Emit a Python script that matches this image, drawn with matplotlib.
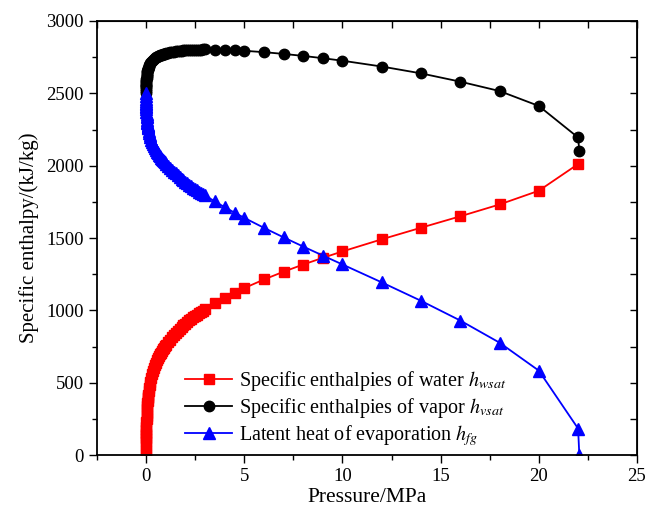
import matplotlib
matplotlib.use('Agg')
import matplotlib.pyplot as plt
from matplotlib.ticker import MultipleLocator

plt.rcParams['font.family'] = ['Liberation Serif', 'DejaVu Serif']
plt.rcParams['mathtext.fontset'] = 'stix'

# saturation pressure, MPa
pressure = [0.000611, 0.001, 0.002, 0.003, 0.004, 0.005, 0.006, 0.008, 0.01, 0.015,
            0.02, 0.025, 0.03, 0.04, 0.05, 0.06, 0.07, 0.08, 0.09,
            0.1, 0.125, 0.15, 0.175, 0.2, 0.25, 0.3, 0.35, 0.4, 0.45, 0.5,
            0.55, 0.6, 0.65, 0.7, 0.75, 0.8, 0.85, 0.9, 0.95, 1.0,
            1.1, 1.2, 1.3, 1.4, 1.5, 1.6, 1.7, 1.8, 1.9, 2.0,
            2.1, 2.2, 2.3, 2.4, 2.5, 2.6, 2.7, 2.8, 2.9, 3.0,
            3.5, 4.0, 4.5, 5.0, 6.0, 7.0, 8.0, 9.0, 10.0,
            12.0, 14.0, 16.0, 18.0, 20.0, 22.0, 22.064]

# saturated water enthalpy, kJ/kg
h_water = [0.0, 29.3, 73.4, 101.0, 121.4, 137.7, 151.5, 173.8, 191.8, 225.9,
           251.4, 271.9, 289.3, 317.6, 340.5, 359.8, 376.7, 391.6, 405.1,
           417.4, 444.3, 467.1, 487.0, 504.7, 535.4, 561.4, 584.3, 604.7, 623.2, 640.1,
           655.8, 670.4, 684.1, 697.0, 709.3, 720.9, 732.0, 742.6, 752.8, 762.5,
           781.0, 798.3, 814.6, 830.0, 844.6, 858.4, 871.7, 884.5, 896.7, 908.5,
           919.9, 930.9, 941.6, 951.9, 961.9, 971.7, 981.2, 990.5, 999.5, 1008.3,
           1049.7, 1087.4, 1122.1, 1154.5, 1213.9, 1267.7, 1317.3, 1363.7, 1407.9,
           1491.5, 1571.6, 1650.5, 1732.2, 1827.2, 2011.3, 2087.0]

# saturated vapour enthalpy, kJ/kg
h_vapor = [2500.9, 2513.7, 2532.9, 2544.9, 2553.7, 2560.7, 2566.6, 2576.2, 2583.9, 2598.3,
           2608.9, 2617.4, 2624.6, 2636.1, 2645.2, 2652.9, 2659.4, 2665.0, 2670.0,
           2675.0, 2685.2, 2693.1, 2700.1, 2706.3, 2716.5, 2724.9, 2732.0, 2738.1, 2743.4, 2748.1,
           2752.3, 2756.2, 2759.6, 2762.8, 2765.6, 2768.3, 2770.7, 2773.0, 2775.1, 2777.1,
           2780.7, 2783.8, 2786.5, 2788.9, 2791.0, 2792.8, 2794.5, 2795.9, 2797.2, 2798.3,
           2799.2, 2800.0, 2800.7, 2801.3, 2801.9, 2802.2, 2802.6, 2802.9, 2803.1, 2803.3,
           2802.7, 2800.8, 2797.9, 2794.2, 2784.6, 2772.6, 2758.7, 2742.9, 2725.5,
           2685.4, 2638.1, 2580.8, 2516.0, 2413.0, 2195.0, 2100.0]

# latent heat of evaporation, kJ/kg
h_fg = [2500.9, 2484.4, 2459.5, 2443.9, 2432.3, 2423.0, 2415.1, 2402.4, 2392.1, 2372.4,
        2357.5, 2345.5, 2335.3, 2318.5, 2304.7, 2293.1, 2282.7, 2273.4, 2264.9,
        2257.5, 2240.9, 2226.0, 2213.1, 2201.6, 2181.1, 2163.5, 2147.7, 2133.4, 2120.2, 2108.0,
        2096.5, 2085.8, 2075.5, 2065.8, 2056.3, 2047.5, 2038.7, 2030.5, 2022.3, 2014.6,
        1999.6, 1985.4, 1971.9, 1958.9, 1946.4, 1934.4, 1922.8, 1911.4, 1900.5, 1889.8,
        1879.3, 1869.1, 1859.1, 1849.4, 1840.0, 1830.5, 1821.4, 1812.4, 1803.6, 1795.0,
        1753.0, 1713.4, 1675.8, 1639.7, 1570.7, 1504.9, 1441.4, 1379.2, 1317.6,
        1193.9, 1066.5, 930.3, 777.3, 584.2, 184.0, 0.0]

fig = plt.figure(figsize=(6.56, 5.12), dpi=100)
ax = fig.add_axes([0.148, 0.111, 0.823, 0.848])

ax.plot(pressure[:-1], h_water[:-1], color='red', marker='s', markersize=7.5, lw=1.3,
        label='Specific enthalpies of water $h_{wsat}$')
ax.plot(pressure, h_vapor, color='black', marker='o', markersize=7.5, lw=1.3,
        label='Specific enthalpies of vapor $h_{vsat}$')
ax.plot(pressure, h_fg, color='blue', marker='^', markersize=8.5, lw=1.3,
        label='Latent heat of evaporation $h_{fg}$')

ax.set_xlim(-2.5, 25)
ax.set_ylim(0, 3000)
ax.xaxis.set_major_locator(MultipleLocator(5))
ax.xaxis.set_minor_locator(MultipleLocator(2.5))
ax.yaxis.set_major_locator(MultipleLocator(500))
ax.yaxis.set_minor_locator(MultipleLocator(250))
ax.tick_params(which='major', direction='out', length=6, width=1, labelsize=13.5)
ax.tick_params(which='minor', direction='out', length=3.5, width=1)
for s in ax.spines.values():
    s.set_linewidth(1.3)

# mirrored ticks on top and right, pointing in
top = ax.secondary_xaxis('top')
top.xaxis.set_major_locator(MultipleLocator(2.5))
top.tick_params(direction='in', length=5, width=1, labeltop=False)
right = ax.secondary_yaxis('right')
right.yaxis.set_major_locator(MultipleLocator(250))
right.tick_params(direction='in', length=5, width=1, labelright=False)

ax.set_xlabel('Pressure/MPa', fontsize=15.5, labelpad=2)
ax.set_ylabel('Specific enthalpy/(kJ/kg)', fontsize=15, labelpad=5)

ax.legend(loc='lower left', bbox_to_anchor=(0.13, -0.025), frameon=False,
          fontsize=14.5, handlelength=2.3, handletextpad=0.35, labelspacing=0.15)

fig.savefig('out.png', dpi=100)
